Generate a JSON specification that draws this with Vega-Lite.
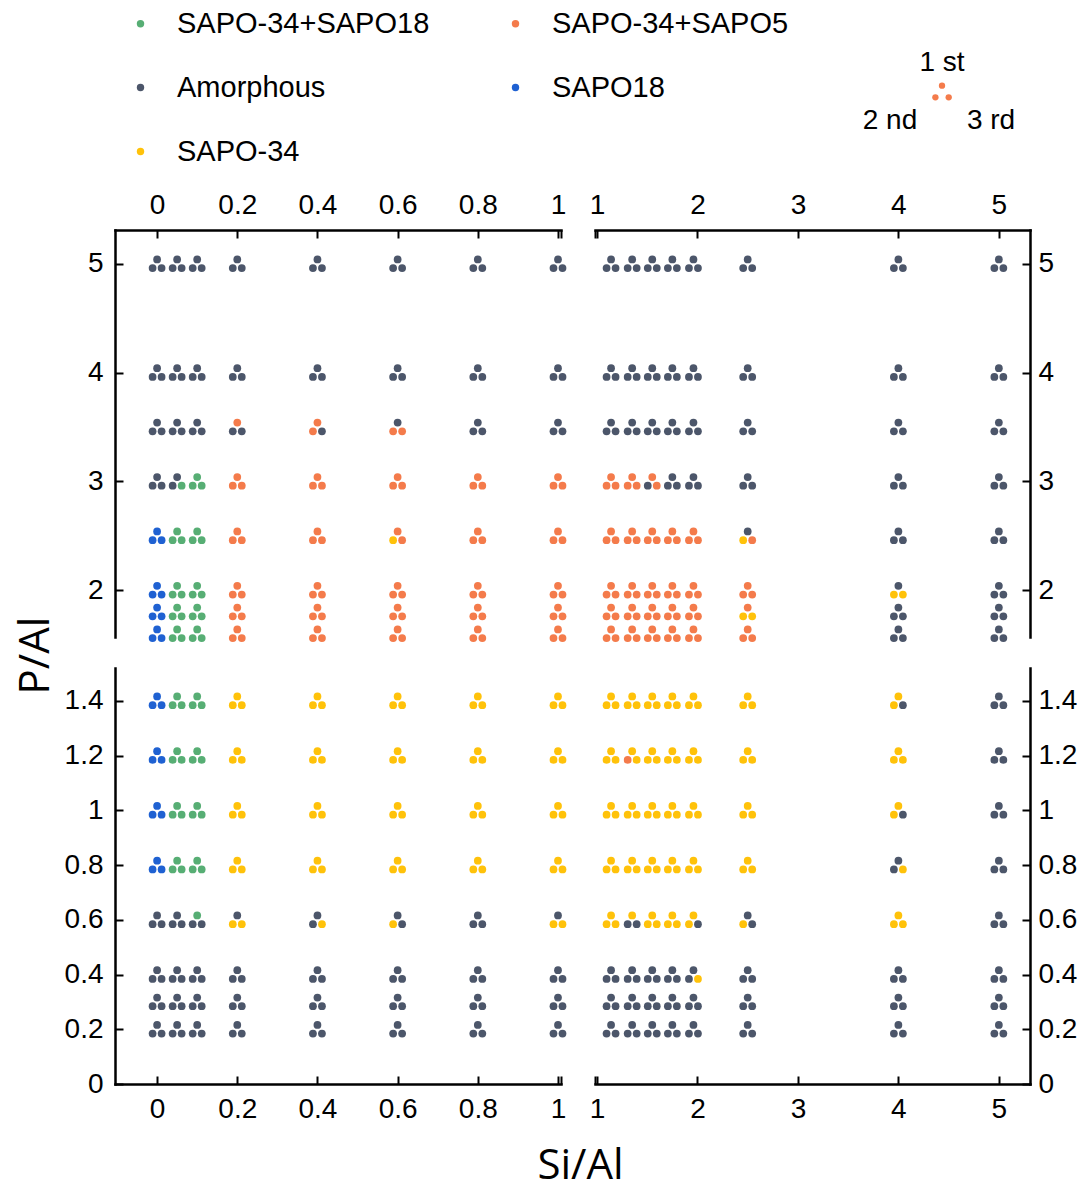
{
  "$schema": "https://vega.github.io/schema/vega-lite/v6.json",
  "padding": {"left": 14, "top": 9, "right": 5, "bottom": 5},
  "autosize": {"type": "pad"},
  "config": {
    "view": {"stroke": null},
    "font": "Liberation Sans",
    "axis": {"grid": false, "domainColor": "#000000", "domainWidth": 2.5, "domainCap": "square", "tickColor": "#000000", "tickWidth": 2, "labelFont": "Liberation Sans", "labelFontSize": 28, "labelColor": "#000000", "titleFont": "Open Sans", "titleFontSize": 42, "titleFontWeight": "normal", "titleColor": "#000000", "labelFlush": false, "labelOverlap": false}
  },
  "datasets": {
    "triplets": [
      {"si":0,"p":5,"first":"Amorphous","second":"Amorphous","third":"Amorphous"},
      {"si":0.05,"p":5,"first":"Amorphous","second":"Amorphous","third":"Amorphous"},
      {"si":0.1,"p":5,"first":"Amorphous","second":"Amorphous","third":"Amorphous"},
      {"si":0.2,"p":5,"first":"Amorphous","second":"Amorphous","third":"Amorphous"},
      {"si":0.4,"p":5,"first":"Amorphous","second":"Amorphous","third":"Amorphous"},
      {"si":0.6,"p":5,"first":"Amorphous","second":"Amorphous","third":"Amorphous"},
      {"si":0.8,"p":5,"first":"Amorphous","second":"Amorphous","third":"Amorphous"},
      {"si":1,"p":5,"first":"Amorphous","second":"Amorphous","third":"Amorphous"},
      {"si":0,"p":4,"first":"Amorphous","second":"Amorphous","third":"Amorphous"},
      {"si":0.05,"p":4,"first":"Amorphous","second":"Amorphous","third":"Amorphous"},
      {"si":0.1,"p":4,"first":"Amorphous","second":"Amorphous","third":"Amorphous"},
      {"si":0.2,"p":4,"first":"Amorphous","second":"Amorphous","third":"Amorphous"},
      {"si":0.4,"p":4,"first":"Amorphous","second":"Amorphous","third":"Amorphous"},
      {"si":0.6,"p":4,"first":"Amorphous","second":"Amorphous","third":"Amorphous"},
      {"si":0.8,"p":4,"first":"Amorphous","second":"Amorphous","third":"Amorphous"},
      {"si":1,"p":4,"first":"Amorphous","second":"Amorphous","third":"Amorphous"},
      {"si":0,"p":3.5,"first":"Amorphous","second":"Amorphous","third":"Amorphous"},
      {"si":0.05,"p":3.5,"first":"Amorphous","second":"Amorphous","third":"Amorphous"},
      {"si":0.1,"p":3.5,"first":"Amorphous","second":"Amorphous","third":"Amorphous"},
      {"si":0.2,"p":3.5,"first":"SAPO-34+SAPO5","second":"Amorphous","third":"Amorphous"},
      {"si":0.4,"p":3.5,"first":"SAPO-34+SAPO5","second":"SAPO-34+SAPO5","third":"Amorphous"},
      {"si":0.6,"p":3.5,"first":"Amorphous","second":"SAPO-34+SAPO5","third":"SAPO-34+SAPO5"},
      {"si":0.8,"p":3.5,"first":"Amorphous","second":"Amorphous","third":"Amorphous"},
      {"si":1,"p":3.5,"first":"Amorphous","second":"Amorphous","third":"Amorphous"},
      {"si":0,"p":3,"first":"Amorphous","second":"Amorphous","third":"Amorphous"},
      {"si":0.05,"p":3,"first":"Amorphous","second":"Amorphous","third":"SAPO-34+SAPO18"},
      {"si":0.1,"p":3,"first":"SAPO-34+SAPO18","second":"SAPO-34+SAPO18","third":"SAPO-34+SAPO18"},
      {"si":0.2,"p":3,"first":"SAPO-34+SAPO5","second":"SAPO-34+SAPO5","third":"SAPO-34+SAPO5"},
      {"si":0.4,"p":3,"first":"SAPO-34+SAPO5","second":"SAPO-34+SAPO5","third":"SAPO-34+SAPO5"},
      {"si":0.6,"p":3,"first":"SAPO-34+SAPO5","second":"SAPO-34+SAPO5","third":"SAPO-34+SAPO5"},
      {"si":0.8,"p":3,"first":"SAPO-34+SAPO5","second":"SAPO-34+SAPO5","third":"SAPO-34+SAPO5"},
      {"si":1,"p":3,"first":"SAPO-34+SAPO5","second":"SAPO-34+SAPO5","third":"SAPO-34+SAPO5"},
      {"si":0,"p":2.5,"first":"SAPO18","second":"SAPO18","third":"SAPO18"},
      {"si":0.05,"p":2.5,"first":"SAPO-34+SAPO18","second":"SAPO-34+SAPO18","third":"SAPO-34+SAPO18"},
      {"si":0.1,"p":2.5,"first":"SAPO-34+SAPO18","second":"SAPO-34+SAPO18","third":"SAPO-34+SAPO18"},
      {"si":0.2,"p":2.5,"first":"SAPO-34+SAPO5","second":"SAPO-34+SAPO5","third":"SAPO-34+SAPO5"},
      {"si":0.4,"p":2.5,"first":"SAPO-34+SAPO5","second":"SAPO-34+SAPO5","third":"SAPO-34+SAPO5"},
      {"si":0.6,"p":2.5,"first":"SAPO-34+SAPO5","second":"SAPO-34","third":"SAPO-34+SAPO5"},
      {"si":0.8,"p":2.5,"first":"SAPO-34+SAPO5","second":"SAPO-34+SAPO5","third":"SAPO-34+SAPO5"},
      {"si":1,"p":2.5,"first":"SAPO-34+SAPO5","second":"SAPO-34+SAPO5","third":"SAPO-34+SAPO5"},
      {"si":0,"p":2,"first":"SAPO18","second":"SAPO18","third":"SAPO18"},
      {"si":0.05,"p":2,"first":"SAPO-34+SAPO18","second":"SAPO-34+SAPO18","third":"SAPO-34+SAPO18"},
      {"si":0.1,"p":2,"first":"SAPO-34+SAPO18","second":"SAPO-34+SAPO18","third":"SAPO-34+SAPO18"},
      {"si":0.2,"p":2,"first":"SAPO-34+SAPO5","second":"SAPO-34+SAPO5","third":"SAPO-34+SAPO5"},
      {"si":0.4,"p":2,"first":"SAPO-34+SAPO5","second":"SAPO-34+SAPO5","third":"SAPO-34+SAPO5"},
      {"si":0.6,"p":2,"first":"SAPO-34+SAPO5","second":"SAPO-34+SAPO5","third":"SAPO-34+SAPO5"},
      {"si":0.8,"p":2,"first":"SAPO-34+SAPO5","second":"SAPO-34+SAPO5","third":"SAPO-34+SAPO5"},
      {"si":1,"p":2,"first":"SAPO-34+SAPO5","second":"SAPO-34+SAPO5","third":"SAPO-34+SAPO5"},
      {"si":0,"p":1.8,"first":"SAPO18","second":"SAPO18","third":"SAPO18"},
      {"si":0.05,"p":1.8,"first":"SAPO-34+SAPO18","second":"SAPO-34+SAPO18","third":"SAPO-34+SAPO18"},
      {"si":0.1,"p":1.8,"first":"SAPO-34+SAPO18","second":"SAPO-34+SAPO18","third":"SAPO-34+SAPO18"},
      {"si":0.2,"p":1.8,"first":"SAPO-34+SAPO5","second":"SAPO-34+SAPO5","third":"SAPO-34+SAPO5"},
      {"si":0.4,"p":1.8,"first":"SAPO-34+SAPO5","second":"SAPO-34+SAPO5","third":"SAPO-34+SAPO5"},
      {"si":0.6,"p":1.8,"first":"SAPO-34+SAPO5","second":"SAPO-34+SAPO5","third":"SAPO-34+SAPO5"},
      {"si":0.8,"p":1.8,"first":"SAPO-34+SAPO5","second":"SAPO-34+SAPO5","third":"SAPO-34+SAPO5"},
      {"si":1,"p":1.8,"first":"SAPO-34+SAPO5","second":"SAPO-34+SAPO5","third":"SAPO-34+SAPO5"},
      {"si":0,"p":1.6,"first":"SAPO18","second":"SAPO18","third":"SAPO18"},
      {"si":0.05,"p":1.6,"first":"SAPO-34+SAPO18","second":"SAPO-34+SAPO18","third":"SAPO-34+SAPO18"},
      {"si":0.1,"p":1.6,"first":"SAPO-34+SAPO18","second":"SAPO-34+SAPO18","third":"SAPO-34+SAPO18"},
      {"si":0.2,"p":1.6,"first":"SAPO-34+SAPO5","second":"SAPO-34+SAPO5","third":"SAPO-34+SAPO5"},
      {"si":0.4,"p":1.6,"first":"SAPO-34+SAPO5","second":"SAPO-34+SAPO5","third":"SAPO-34+SAPO5"},
      {"si":0.6,"p":1.6,"first":"SAPO-34+SAPO5","second":"SAPO-34+SAPO5","third":"SAPO-34+SAPO5"},
      {"si":0.8,"p":1.6,"first":"SAPO-34+SAPO5","second":"SAPO-34+SAPO5","third":"SAPO-34+SAPO5"},
      {"si":1,"p":1.6,"first":"SAPO-34+SAPO5","second":"SAPO-34+SAPO5","third":"SAPO-34+SAPO5"},

      {"si":1.14,"p":5,"first":"Amorphous","second":"Amorphous","third":"Amorphous"},
      {"si":1.35,"p":5,"first":"Amorphous","second":"Amorphous","third":"Amorphous"},
      {"si":1.55,"p":5,"first":"Amorphous","second":"Amorphous","third":"Amorphous"},
      {"si":1.75,"p":5,"first":"Amorphous","second":"Amorphous","third":"Amorphous"},
      {"si":1.96,"p":5,"first":"Amorphous","second":"Amorphous","third":"Amorphous"},
      {"si":2.5,"p":5,"first":"Amorphous","second":"Amorphous","third":"Amorphous"},
      {"si":4,"p":5,"first":"Amorphous","second":"Amorphous","third":"Amorphous"},
      {"si":5,"p":5,"first":"Amorphous","second":"Amorphous","third":"Amorphous"},
      {"si":1.14,"p":4,"first":"Amorphous","second":"Amorphous","third":"Amorphous"},
      {"si":1.35,"p":4,"first":"Amorphous","second":"Amorphous","third":"Amorphous"},
      {"si":1.55,"p":4,"first":"Amorphous","second":"Amorphous","third":"Amorphous"},
      {"si":1.75,"p":4,"first":"Amorphous","second":"Amorphous","third":"Amorphous"},
      {"si":1.96,"p":4,"first":"Amorphous","second":"Amorphous","third":"Amorphous"},
      {"si":2.5,"p":4,"first":"Amorphous","second":"Amorphous","third":"Amorphous"},
      {"si":4,"p":4,"first":"Amorphous","second":"Amorphous","third":"Amorphous"},
      {"si":5,"p":4,"first":"Amorphous","second":"Amorphous","third":"Amorphous"},
      {"si":1.14,"p":3.5,"first":"Amorphous","second":"Amorphous","third":"Amorphous"},
      {"si":1.35,"p":3.5,"first":"Amorphous","second":"Amorphous","third":"Amorphous"},
      {"si":1.55,"p":3.5,"first":"Amorphous","second":"Amorphous","third":"Amorphous"},
      {"si":1.75,"p":3.5,"first":"Amorphous","second":"Amorphous","third":"Amorphous"},
      {"si":1.96,"p":3.5,"first":"Amorphous","second":"Amorphous","third":"Amorphous"},
      {"si":2.5,"p":3.5,"first":"Amorphous","second":"Amorphous","third":"Amorphous"},
      {"si":4,"p":3.5,"first":"Amorphous","second":"Amorphous","third":"Amorphous"},
      {"si":5,"p":3.5,"first":"Amorphous","second":"Amorphous","third":"Amorphous"},
      {"si":1.14,"p":3,"first":"SAPO-34+SAPO5","second":"SAPO-34+SAPO5","third":"SAPO-34+SAPO5"},
      {"si":1.35,"p":3,"first":"SAPO-34+SAPO5","second":"SAPO-34+SAPO5","third":"SAPO-34+SAPO5"},
      {"si":1.55,"p":3,"first":"SAPO-34+SAPO5","second":"Amorphous","third":"SAPO-34+SAPO5"},
      {"si":1.75,"p":3,"first":"Amorphous","second":"Amorphous","third":"Amorphous"},
      {"si":1.96,"p":3,"first":"Amorphous","second":"Amorphous","third":"Amorphous"},
      {"si":2.5,"p":3,"first":"Amorphous","second":"Amorphous","third":"Amorphous"},
      {"si":4,"p":3,"first":"Amorphous","second":"Amorphous","third":"Amorphous"},
      {"si":5,"p":3,"first":"Amorphous","second":"Amorphous","third":"Amorphous"},
      {"si":1.14,"p":2.5,"first":"SAPO-34+SAPO5","second":"SAPO-34+SAPO5","third":"SAPO-34+SAPO5"},
      {"si":1.35,"p":2.5,"first":"SAPO-34+SAPO5","second":"SAPO-34+SAPO5","third":"SAPO-34+SAPO5"},
      {"si":1.55,"p":2.5,"first":"SAPO-34+SAPO5","second":"SAPO-34+SAPO5","third":"SAPO-34+SAPO5"},
      {"si":1.75,"p":2.5,"first":"SAPO-34+SAPO5","second":"SAPO-34+SAPO5","third":"SAPO-34+SAPO5"},
      {"si":1.96,"p":2.5,"first":"SAPO-34+SAPO5","second":"SAPO-34+SAPO5","third":"SAPO-34+SAPO5"},
      {"si":2.5,"p":2.5,"first":"Amorphous","second":"SAPO-34","third":"SAPO-34+SAPO5"},
      {"si":4,"p":2.5,"first":"Amorphous","second":"Amorphous","third":"Amorphous"},
      {"si":5,"p":2.5,"first":"Amorphous","second":"Amorphous","third":"Amorphous"},
      {"si":1.14,"p":2,"first":"SAPO-34+SAPO5","second":"SAPO-34+SAPO5","third":"SAPO-34+SAPO5"},
      {"si":1.35,"p":2,"first":"SAPO-34+SAPO5","second":"SAPO-34+SAPO5","third":"SAPO-34+SAPO5"},
      {"si":1.55,"p":2,"first":"SAPO-34+SAPO5","second":"SAPO-34+SAPO5","third":"SAPO-34+SAPO5"},
      {"si":1.75,"p":2,"first":"SAPO-34+SAPO5","second":"SAPO-34+SAPO5","third":"SAPO-34+SAPO5"},
      {"si":1.96,"p":2,"first":"SAPO-34+SAPO5","second":"SAPO-34+SAPO5","third":"SAPO-34+SAPO5"},
      {"si":2.5,"p":2,"first":"SAPO-34+SAPO5","second":"SAPO-34+SAPO5","third":"SAPO-34+SAPO5"},
      {"si":4,"p":2,"first":"Amorphous","second":"SAPO-34","third":"SAPO-34"},
      {"si":5,"p":2,"first":"Amorphous","second":"Amorphous","third":"Amorphous"},
      {"si":1.14,"p":1.8,"first":"SAPO-34+SAPO5","second":"SAPO-34+SAPO5","third":"SAPO-34+SAPO5"},
      {"si":1.35,"p":1.8,"first":"SAPO-34+SAPO5","second":"SAPO-34+SAPO5","third":"SAPO-34+SAPO5"},
      {"si":1.55,"p":1.8,"first":"SAPO-34+SAPO5","second":"SAPO-34+SAPO5","third":"SAPO-34+SAPO5"},
      {"si":1.75,"p":1.8,"first":"SAPO-34+SAPO5","second":"SAPO-34+SAPO5","third":"SAPO-34+SAPO5"},
      {"si":1.96,"p":1.8,"first":"SAPO-34+SAPO5","second":"SAPO-34+SAPO5","third":"SAPO-34+SAPO5"},
      {"si":2.5,"p":1.8,"first":"SAPO-34+SAPO5","second":"SAPO-34","third":"SAPO-34"},
      {"si":4,"p":1.8,"first":"Amorphous","second":"Amorphous","third":"Amorphous"},
      {"si":5,"p":1.8,"first":"Amorphous","second":"Amorphous","third":"Amorphous"},
      {"si":1.14,"p":1.6,"first":"SAPO-34+SAPO5","second":"SAPO-34+SAPO5","third":"SAPO-34+SAPO5"},
      {"si":1.35,"p":1.6,"first":"SAPO-34+SAPO5","second":"SAPO-34+SAPO5","third":"SAPO-34+SAPO5"},
      {"si":1.55,"p":1.6,"first":"SAPO-34+SAPO5","second":"SAPO-34+SAPO5","third":"SAPO-34+SAPO5"},
      {"si":1.75,"p":1.6,"first":"SAPO-34+SAPO5","second":"SAPO-34+SAPO5","third":"SAPO-34+SAPO5"},
      {"si":1.96,"p":1.6,"first":"SAPO-34+SAPO5","second":"SAPO-34+SAPO5","third":"SAPO-34+SAPO5"},
      {"si":2.5,"p":1.6,"first":"SAPO-34+SAPO5","second":"SAPO-34+SAPO5","third":"SAPO-34+SAPO5"},
      {"si":4,"p":1.6,"first":"Amorphous","second":"Amorphous","third":"Amorphous"},
      {"si":5,"p":1.6,"first":"Amorphous","second":"Amorphous","third":"Amorphous"},

      {"si":0,"p":1.4,"first":"SAPO18","second":"SAPO18","third":"SAPO18"},
      {"si":0.05,"p":1.4,"first":"SAPO-34+SAPO18","second":"SAPO-34+SAPO18","third":"SAPO-34+SAPO18"},
      {"si":0.1,"p":1.4,"first":"SAPO-34+SAPO18","second":"SAPO-34+SAPO18","third":"SAPO-34+SAPO18"},
      {"si":0.2,"p":1.4,"first":"SAPO-34","second":"SAPO-34","third":"SAPO-34"},
      {"si":0.4,"p":1.4,"first":"SAPO-34","second":"SAPO-34","third":"SAPO-34"},
      {"si":0.6,"p":1.4,"first":"SAPO-34","second":"SAPO-34","third":"SAPO-34"},
      {"si":0.8,"p":1.4,"first":"SAPO-34","second":"SAPO-34","third":"SAPO-34"},
      {"si":1,"p":1.4,"first":"SAPO-34","second":"SAPO-34","third":"SAPO-34"},
      {"si":0,"p":1.2,"first":"SAPO18","second":"SAPO18","third":"SAPO18"},
      {"si":0.05,"p":1.2,"first":"SAPO-34+SAPO18","second":"SAPO-34+SAPO18","third":"SAPO-34+SAPO18"},
      {"si":0.1,"p":1.2,"first":"SAPO-34+SAPO18","second":"SAPO-34+SAPO18","third":"SAPO-34+SAPO18"},
      {"si":0.2,"p":1.2,"first":"SAPO-34","second":"SAPO-34","third":"SAPO-34"},
      {"si":0.4,"p":1.2,"first":"SAPO-34","second":"SAPO-34","third":"SAPO-34"},
      {"si":0.6,"p":1.2,"first":"SAPO-34","second":"SAPO-34","third":"SAPO-34"},
      {"si":0.8,"p":1.2,"first":"SAPO-34","second":"SAPO-34","third":"SAPO-34"},
      {"si":1,"p":1.2,"first":"SAPO-34","second":"SAPO-34","third":"SAPO-34"},
      {"si":0,"p":1,"first":"SAPO18","second":"SAPO18","third":"SAPO18"},
      {"si":0.05,"p":1,"first":"SAPO-34+SAPO18","second":"SAPO-34+SAPO18","third":"SAPO-34+SAPO18"},
      {"si":0.1,"p":1,"first":"SAPO-34+SAPO18","second":"SAPO-34+SAPO18","third":"SAPO-34+SAPO18"},
      {"si":0.2,"p":1,"first":"SAPO-34","second":"SAPO-34","third":"SAPO-34"},
      {"si":0.4,"p":1,"first":"SAPO-34","second":"SAPO-34","third":"SAPO-34"},
      {"si":0.6,"p":1,"first":"SAPO-34","second":"SAPO-34","third":"SAPO-34"},
      {"si":0.8,"p":1,"first":"SAPO-34","second":"SAPO-34","third":"SAPO-34"},
      {"si":1,"p":1,"first":"SAPO-34","second":"SAPO-34","third":"SAPO-34"},
      {"si":0,"p":0.8,"first":"SAPO18","second":"SAPO18","third":"SAPO18"},
      {"si":0.05,"p":0.8,"first":"SAPO-34+SAPO18","second":"SAPO-34+SAPO18","third":"SAPO-34+SAPO18"},
      {"si":0.1,"p":0.8,"first":"SAPO-34+SAPO18","second":"SAPO-34+SAPO18","third":"SAPO-34+SAPO18"},
      {"si":0.2,"p":0.8,"first":"SAPO-34","second":"SAPO-34","third":"SAPO-34"},
      {"si":0.4,"p":0.8,"first":"SAPO-34","second":"SAPO-34","third":"SAPO-34"},
      {"si":0.6,"p":0.8,"first":"SAPO-34","second":"SAPO-34","third":"SAPO-34"},
      {"si":0.8,"p":0.8,"first":"SAPO-34","second":"SAPO-34","third":"SAPO-34"},
      {"si":1,"p":0.8,"first":"SAPO-34","second":"SAPO-34","third":"SAPO-34"},
      {"si":0,"p":0.6,"first":"Amorphous","second":"Amorphous","third":"Amorphous"},
      {"si":0.05,"p":0.6,"first":"Amorphous","second":"Amorphous","third":"Amorphous"},
      {"si":0.1,"p":0.6,"first":"SAPO-34+SAPO18","second":"Amorphous","third":"Amorphous"},
      {"si":0.2,"p":0.6,"first":"Amorphous","second":"SAPO-34","third":"SAPO-34"},
      {"si":0.4,"p":0.6,"first":"Amorphous","second":"Amorphous","third":"SAPO-34"},
      {"si":0.6,"p":0.6,"first":"Amorphous","second":"SAPO-34","third":"Amorphous"},
      {"si":0.8,"p":0.6,"first":"Amorphous","second":"Amorphous","third":"Amorphous"},
      {"si":1,"p":0.6,"first":"Amorphous","second":"SAPO-34","third":"SAPO-34"},
      {"si":0,"p":0.4,"first":"Amorphous","second":"Amorphous","third":"Amorphous"},
      {"si":0.05,"p":0.4,"first":"Amorphous","second":"Amorphous","third":"Amorphous"},
      {"si":0.1,"p":0.4,"first":"Amorphous","second":"Amorphous","third":"Amorphous"},
      {"si":0.2,"p":0.4,"first":"Amorphous","second":"Amorphous","third":"Amorphous"},
      {"si":0.4,"p":0.4,"first":"Amorphous","second":"Amorphous","third":"Amorphous"},
      {"si":0.6,"p":0.4,"first":"Amorphous","second":"Amorphous","third":"Amorphous"},
      {"si":0.8,"p":0.4,"first":"Amorphous","second":"Amorphous","third":"Amorphous"},
      {"si":1,"p":0.4,"first":"Amorphous","second":"Amorphous","third":"Amorphous"},
      {"si":0,"p":0.3,"first":"Amorphous","second":"Amorphous","third":"Amorphous"},
      {"si":0.05,"p":0.3,"first":"Amorphous","second":"Amorphous","third":"Amorphous"},
      {"si":0.1,"p":0.3,"first":"Amorphous","second":"Amorphous","third":"Amorphous"},
      {"si":0.2,"p":0.3,"first":"Amorphous","second":"Amorphous","third":"Amorphous"},
      {"si":0.4,"p":0.3,"first":"Amorphous","second":"Amorphous","third":"Amorphous"},
      {"si":0.6,"p":0.3,"first":"Amorphous","second":"Amorphous","third":"Amorphous"},
      {"si":0.8,"p":0.3,"first":"Amorphous","second":"Amorphous","third":"Amorphous"},
      {"si":1,"p":0.3,"first":"Amorphous","second":"Amorphous","third":"Amorphous"},
      {"si":0,"p":0.2,"first":"Amorphous","second":"Amorphous","third":"Amorphous"},
      {"si":0.05,"p":0.2,"first":"Amorphous","second":"Amorphous","third":"Amorphous"},
      {"si":0.1,"p":0.2,"first":"Amorphous","second":"Amorphous","third":"Amorphous"},
      {"si":0.2,"p":0.2,"first":"Amorphous","second":"Amorphous","third":"Amorphous"},
      {"si":0.4,"p":0.2,"first":"Amorphous","second":"Amorphous","third":"Amorphous"},
      {"si":0.6,"p":0.2,"first":"Amorphous","second":"Amorphous","third":"Amorphous"},
      {"si":0.8,"p":0.2,"first":"Amorphous","second":"Amorphous","third":"Amorphous"},
      {"si":1,"p":0.2,"first":"Amorphous","second":"Amorphous","third":"Amorphous"},

      {"si":1.14,"p":1.4,"first":"SAPO-34","second":"SAPO-34","third":"SAPO-34"},
      {"si":1.35,"p":1.4,"first":"SAPO-34","second":"SAPO-34","third":"SAPO-34"},
      {"si":1.55,"p":1.4,"first":"SAPO-34","second":"SAPO-34","third":"SAPO-34"},
      {"si":1.75,"p":1.4,"first":"SAPO-34","second":"SAPO-34","third":"SAPO-34"},
      {"si":1.96,"p":1.4,"first":"SAPO-34","second":"SAPO-34","third":"SAPO-34"},
      {"si":2.5,"p":1.4,"first":"SAPO-34","second":"SAPO-34","third":"SAPO-34"},
      {"si":4,"p":1.4,"first":"SAPO-34","second":"SAPO-34","third":"Amorphous"},
      {"si":5,"p":1.4,"first":"Amorphous","second":"Amorphous","third":"Amorphous"},
      {"si":1.14,"p":1.2,"first":"SAPO-34","second":"SAPO-34","third":"SAPO-34"},
      {"si":1.35,"p":1.2,"first":"SAPO-34","second":"SAPO-34+SAPO5","third":"SAPO-34"},
      {"si":1.55,"p":1.2,"first":"SAPO-34","second":"SAPO-34","third":"SAPO-34"},
      {"si":1.75,"p":1.2,"first":"SAPO-34","second":"SAPO-34","third":"SAPO-34"},
      {"si":1.96,"p":1.2,"first":"SAPO-34","second":"SAPO-34","third":"SAPO-34"},
      {"si":2.5,"p":1.2,"first":"SAPO-34","second":"SAPO-34","third":"SAPO-34"},
      {"si":4,"p":1.2,"first":"SAPO-34","second":"SAPO-34","third":"SAPO-34"},
      {"si":5,"p":1.2,"first":"Amorphous","second":"Amorphous","third":"Amorphous"},
      {"si":1.14,"p":1,"first":"SAPO-34","second":"SAPO-34","third":"SAPO-34"},
      {"si":1.35,"p":1,"first":"SAPO-34","second":"SAPO-34","third":"SAPO-34"},
      {"si":1.55,"p":1,"first":"SAPO-34","second":"SAPO-34","third":"SAPO-34"},
      {"si":1.75,"p":1,"first":"SAPO-34","second":"SAPO-34","third":"SAPO-34"},
      {"si":1.96,"p":1,"first":"SAPO-34","second":"SAPO-34","third":"SAPO-34"},
      {"si":2.5,"p":1,"first":"SAPO-34","second":"SAPO-34","third":"SAPO-34"},
      {"si":4,"p":1,"first":"SAPO-34","second":"SAPO-34","third":"Amorphous"},
      {"si":5,"p":1,"first":"Amorphous","second":"Amorphous","third":"Amorphous"},
      {"si":1.14,"p":0.8,"first":"SAPO-34","second":"SAPO-34","third":"SAPO-34"},
      {"si":1.35,"p":0.8,"first":"SAPO-34","second":"SAPO-34","third":"SAPO-34"},
      {"si":1.55,"p":0.8,"first":"SAPO-34","second":"SAPO-34","third":"SAPO-34"},
      {"si":1.75,"p":0.8,"first":"SAPO-34","second":"SAPO-34","third":"SAPO-34"},
      {"si":1.96,"p":0.8,"first":"SAPO-34","second":"SAPO-34","third":"SAPO-34"},
      {"si":2.5,"p":0.8,"first":"SAPO-34","second":"SAPO-34","third":"SAPO-34"},
      {"si":4,"p":0.8,"first":"Amorphous","second":"Amorphous","third":"SAPO-34"},
      {"si":5,"p":0.8,"first":"Amorphous","second":"Amorphous","third":"Amorphous"},
      {"si":1.14,"p":0.6,"first":"SAPO-34","second":"SAPO-34","third":"SAPO-34"},
      {"si":1.35,"p":0.6,"first":"SAPO-34","second":"Amorphous","third":"Amorphous"},
      {"si":1.55,"p":0.6,"first":"SAPO-34","second":"SAPO-34","third":"SAPO-34"},
      {"si":1.75,"p":0.6,"first":"SAPO-34","second":"SAPO-34","third":"SAPO-34"},
      {"si":1.96,"p":0.6,"first":"SAPO-34","second":"SAPO-34","third":"Amorphous"},
      {"si":2.5,"p":0.6,"first":"Amorphous","second":"SAPO-34","third":"Amorphous"},
      {"si":4,"p":0.6,"first":"SAPO-34","second":"SAPO-34","third":"SAPO-34"},
      {"si":5,"p":0.6,"first":"Amorphous","second":"Amorphous","third":"Amorphous"},
      {"si":1.14,"p":0.4,"first":"Amorphous","second":"Amorphous","third":"Amorphous"},
      {"si":1.35,"p":0.4,"first":"Amorphous","second":"Amorphous","third":"Amorphous"},
      {"si":1.55,"p":0.4,"first":"Amorphous","second":"Amorphous","third":"Amorphous"},
      {"si":1.75,"p":0.4,"first":"Amorphous","second":"Amorphous","third":"Amorphous"},
      {"si":1.96,"p":0.4,"first":"Amorphous","second":"Amorphous","third":"SAPO-34"},
      {"si":2.5,"p":0.4,"first":"Amorphous","second":"Amorphous","third":"Amorphous"},
      {"si":4,"p":0.4,"first":"Amorphous","second":"Amorphous","third":"Amorphous"},
      {"si":5,"p":0.4,"first":"Amorphous","second":"Amorphous","third":"Amorphous"},
      {"si":1.14,"p":0.3,"first":"Amorphous","second":"Amorphous","third":"Amorphous"},
      {"si":1.35,"p":0.3,"first":"Amorphous","second":"Amorphous","third":"Amorphous"},
      {"si":1.55,"p":0.3,"first":"Amorphous","second":"Amorphous","third":"Amorphous"},
      {"si":1.75,"p":0.3,"first":"Amorphous","second":"Amorphous","third":"Amorphous"},
      {"si":1.96,"p":0.3,"first":"Amorphous","second":"Amorphous","third":"Amorphous"},
      {"si":2.5,"p":0.3,"first":"Amorphous","second":"Amorphous","third":"Amorphous"},
      {"si":4,"p":0.3,"first":"Amorphous","second":"Amorphous","third":"Amorphous"},
      {"si":5,"p":0.3,"first":"Amorphous","second":"Amorphous","third":"Amorphous"},
      {"si":1.14,"p":0.2,"first":"Amorphous","second":"Amorphous","third":"Amorphous"},
      {"si":1.35,"p":0.2,"first":"Amorphous","second":"Amorphous","third":"Amorphous"},
      {"si":1.55,"p":0.2,"first":"Amorphous","second":"Amorphous","third":"Amorphous"},
      {"si":1.75,"p":0.2,"first":"Amorphous","second":"Amorphous","third":"Amorphous"},
      {"si":1.96,"p":0.2,"first":"Amorphous","second":"Amorphous","third":"Amorphous"},
      {"si":2.5,"p":0.2,"first":"Amorphous","second":"Amorphous","third":"Amorphous"},
      {"si":4,"p":0.2,"first":"Amorphous","second":"Amorphous","third":"Amorphous"},
      {"si":5,"p":0.2,"first":"Amorphous","second":"Amorphous","third":"Amorphous"}
    ]
  },
  "concat": [
    {"width": 446, "height": 190, "data": {"values": []}, "mark": {"type": "point"}},
    {
      "width": 435, "height": 190,
      "data": {"values": [{"order": "1 st"}, {"order": "2 nd"}, {"order": "3 rd"}]},
      "layer": [
        {"transform": [{"filter": "datum.order == '1 st'"}], "mark": {"type": "circle", "size": 40, "opacity": 1, "color": "#F47B4B", "xOffset": 129.5, "yOffset": -18.3}, "encoding": {}},
        {"transform": [{"filter": "datum.order == '2 nd'"}], "mark": {"type": "circle", "size": 40, "opacity": 1, "color": "#F47B4B", "xOffset": 122.9, "yOffset": -6.7}, "encoding": {}},
        {"transform": [{"filter": "datum.order == '3 rd'"}], "mark": {"type": "circle", "size": 40, "opacity": 1, "color": "#F47B4B", "xOffset": 136.2, "yOffset": -6.7}, "encoding": {}},
        {"transform": [{"filter": "datum.order == '1 st'"}], "mark": {"type": "text", "font": "Liberation Sans", "fontSize": 28, "color": "#000000", "align": "center", "baseline": "middle", "dx": 129.5, "dy": -41}, "encoding": {"text": {"field": "order"}}},
        {"transform": [{"filter": "datum.order == '2 nd'"}], "mark": {"type": "text", "font": "Liberation Sans", "fontSize": 28, "color": "#000000", "align": "center", "baseline": "middle", "dx": 77.5, "dy": 17}, "encoding": {"text": {"field": "order"}}},
        {"transform": [{"filter": "datum.order == '3 rd'"}], "mark": {"type": "text", "font": "Liberation Sans", "fontSize": 28, "color": "#000000", "align": "center", "baseline": "middle", "dx": 178.5, "dy": 17}, "encoding": {"text": {"field": "order"}}}
      ]
    },
    {
      "width": 446, "height": 407,
      "data": {"name": "triplets"},
      "transform": [{"filter": "datum.si <= 1.001 && datum.p >= 1.5"}],
      "encoding": {
        "x": {"field": "si", "type": "quantitative", "scale": {"domain": [-0.105, 1.0075], "nice": false, "zero": false},
              "axis": {"orient": "top", "values": [0, 0.2, 0.4, 0.6, 0.8, 1, 1.0075], "format": "~g", "labelExpr": "datum.value > 1.001 ? '' : datum.label", "title": null, "tickSize": -8, "labelPadding": 19}},
        "y": {"field": "p", "type": "quantitative", "scale": {"domain": [1.57, 5.31], "nice": false, "zero": false},
              "axis": {"orient": "left", "values": [2, 3, 4, 5], "format": "~g", "tickSize": -8, "labelPadding": 20, "title": "P/Al", "titleX": -80, "titleY": 425, "titleAlign": "center", "titleBaseline": "middle"}}
      },
      "layer": [
        {"mark": {"type": "circle", "size": 60, "opacity": 1, "yOffset": -4.35},
         "encoding": {"color": {"field": "first", "type": "nominal",
           "scale": {"domain": ["SAPO-34+SAPO18", "SAPO-34+SAPO5", "Amorphous", "SAPO18", "SAPO-34"], "range": ["#57AE74", "#F47B4B", "#4C566A", "#1F61D2", "#FFC20A"]},
           "legend": {"title": null, "orient": "none", "legendX": 11, "legendY": 0, "columns": 2, "direction": "horizontal", "padding": 0, "symbolType": "circle", "symbolSize": 55, "symbolStrokeWidth": 0, "labelFont": "Liberation Sans", "labelFontSize": 29, "labelColor": "#000000", "labelOffset": 22, "rowPadding": 34, "columnPadding": 71, "labelLimit": 400}}}},
        {"mark": {"type": "circle", "size": 60, "opacity": 1, "xOffset": -4.5, "yOffset": 4.35},
         "encoding": {"color": {"field": "second", "type": "nominal", "scale": {"domain": ["SAPO-34+SAPO18", "SAPO-34+SAPO5", "Amorphous", "SAPO18", "SAPO-34"], "range": ["#57AE74", "#F47B4B", "#4C566A", "#1F61D2", "#FFC20A"]}, "legend": null}}},
        {"mark": {"type": "circle", "size": 60, "opacity": 1, "xOffset": 4.5, "yOffset": 4.35},
         "encoding": {"color": {"field": "third", "type": "nominal", "scale": {"domain": ["SAPO-34+SAPO18", "SAPO-34+SAPO5", "Amorphous", "SAPO18", "SAPO-34"], "range": ["#57AE74", "#F47B4B", "#4C566A", "#1F61D2", "#FFC20A"]}, "legend": null}}}
      ]
    },
    {
      "width": 435, "height": 407,
      "data": {"name": "triplets"},
      "transform": [{"filter": "datum.si > 1.001 && datum.p >= 1.5"}],
      "encoding": {
        "x": {"field": "si", "type": "quantitative", "scale": {"domain": [0.98, 5.31], "nice": false, "zero": false},
              "axis": {"orient": "top", "values": [0.98, 1, 2, 3, 4, 5], "format": "~g", "labelExpr": "datum.value < 0.99 ? '' : datum.label", "title": null, "tickSize": -8, "labelPadding": 19}},
        "y": {"field": "p", "type": "quantitative", "scale": {"domain": [1.57, 5.31], "nice": false, "zero": false},
              "axis": {"orient": "right", "values": [2, 3, 4, 5], "format": "~g", "tickSize": -8, "labelPadding": 16, "title": null}}
      },
      "layer": [
        {"mark": {"type": "circle", "size": 60, "opacity": 1, "yOffset": -4.35},
         "encoding": {"color": {"field": "first", "type": "nominal", "scale": {"domain": ["SAPO-34+SAPO18", "SAPO-34+SAPO5", "Amorphous", "SAPO18", "SAPO-34"], "range": ["#57AE74", "#F47B4B", "#4C566A", "#1F61D2", "#FFC20A"]}, "legend": null}}},
        {"mark": {"type": "circle", "size": 60, "opacity": 1, "xOffset": -4.5, "yOffset": 4.35},
         "encoding": {"color": {"field": "second", "type": "nominal", "scale": {"domain": ["SAPO-34+SAPO18", "SAPO-34+SAPO5", "Amorphous", "SAPO18", "SAPO-34"], "range": ["#57AE74", "#F47B4B", "#4C566A", "#1F61D2", "#FFC20A"]}, "legend": null}}},
        {"mark": {"type": "circle", "size": 60, "opacity": 1, "xOffset": 4.5, "yOffset": 4.35},
         "encoding": {"color": {"field": "third", "type": "nominal", "scale": {"domain": ["SAPO-34+SAPO18", "SAPO-34+SAPO5", "Amorphous", "SAPO18", "SAPO-34"], "range": ["#57AE74", "#F47B4B", "#4C566A", "#1F61D2", "#FFC20A"]}, "legend": null}}}
      ]
    },
    {
      "width": 446, "height": 416,
      "data": {"name": "triplets"},
      "transform": [{"filter": "datum.si <= 1.001 && datum.p < 1.5"}],
      "encoding": {
        "x": {"field": "si", "type": "quantitative", "scale": {"domain": [-0.105, 1.0075], "nice": false, "zero": false},
              "axis": {"orient": "bottom", "values": [0, 0.2, 0.4, 0.6, 0.8, 1, 1.0075], "format": "~g", "labelExpr": "datum.value > 1.001 ? '' : datum.label", "tickSize": -8, "labelPadding": 19, "title": "Si/Al", "titleX": 465, "titleY": 81, "titleAlign": "center", "titleBaseline": "middle"}},
        "y": {"field": "p", "type": "quantitative", "scale": {"domain": [0, 1.52], "nice": false, "zero": false},
              "axis": {"orient": "left", "values": [0, 0.2, 0.4, 0.6, 0.8, 1, 1.2, 1.4], "format": "~g", "tickSize": -8, "labelPadding": 20, "title": null}}
      },
      "layer": [
        {"mark": {"type": "circle", "size": 60, "opacity": 1, "yOffset": -4.35},
         "encoding": {"color": {"field": "first", "type": "nominal", "scale": {"domain": ["SAPO-34+SAPO18", "SAPO-34+SAPO5", "Amorphous", "SAPO18", "SAPO-34"], "range": ["#57AE74", "#F47B4B", "#4C566A", "#1F61D2", "#FFC20A"]}, "legend": null}}},
        {"mark": {"type": "circle", "size": 60, "opacity": 1, "xOffset": -4.5, "yOffset": 4.35},
         "encoding": {"color": {"field": "second", "type": "nominal", "scale": {"domain": ["SAPO-34+SAPO18", "SAPO-34+SAPO5", "Amorphous", "SAPO18", "SAPO-34"], "range": ["#57AE74", "#F47B4B", "#4C566A", "#1F61D2", "#FFC20A"]}, "legend": null}}},
        {"mark": {"type": "circle", "size": 60, "opacity": 1, "xOffset": 4.5, "yOffset": 4.35},
         "encoding": {"color": {"field": "third", "type": "nominal", "scale": {"domain": ["SAPO-34+SAPO18", "SAPO-34+SAPO5", "Amorphous", "SAPO18", "SAPO-34"], "range": ["#57AE74", "#F47B4B", "#4C566A", "#1F61D2", "#FFC20A"]}, "legend": null}}}
      ]
    },
    {
      "width": 435, "height": 416,
      "data": {"name": "triplets"},
      "transform": [{"filter": "datum.si > 1.001 && datum.p < 1.5"}],
      "encoding": {
        "x": {"field": "si", "type": "quantitative", "scale": {"domain": [0.98, 5.31], "nice": false, "zero": false},
              "axis": {"orient": "bottom", "values": [0.98, 1, 2, 3, 4, 5], "format": "~g", "labelExpr": "datum.value < 0.99 ? '' : datum.label", "title": null, "tickSize": -8, "labelPadding": 19}},
        "y": {"field": "p", "type": "quantitative", "scale": {"domain": [0, 1.52], "nice": false, "zero": false},
              "axis": {"orient": "right", "values": [0, 0.2, 0.4, 0.6, 0.8, 1, 1.2, 1.4], "format": "~g", "tickSize": -8, "labelPadding": 16, "title": null}}
      },
      "layer": [
        {"mark": {"type": "circle", "size": 60, "opacity": 1, "yOffset": -4.35},
         "encoding": {"color": {"field": "first", "type": "nominal", "scale": {"domain": ["SAPO-34+SAPO18", "SAPO-34+SAPO5", "Amorphous", "SAPO18", "SAPO-34"], "range": ["#57AE74", "#F47B4B", "#4C566A", "#1F61D2", "#FFC20A"]}, "legend": null}}},
        {"mark": {"type": "circle", "size": 60, "opacity": 1, "xOffset": -4.5, "yOffset": 4.35},
         "encoding": {"color": {"field": "second", "type": "nominal", "scale": {"domain": ["SAPO-34+SAPO18", "SAPO-34+SAPO5", "Amorphous", "SAPO18", "SAPO-34"], "range": ["#57AE74", "#F47B4B", "#4C566A", "#1F61D2", "#FFC20A"]}, "legend": null}}},
        {"mark": {"type": "circle", "size": 60, "opacity": 1, "xOffset": 4.5, "yOffset": 4.35},
         "encoding": {"color": {"field": "third", "type": "nominal", "scale": {"domain": ["SAPO-34+SAPO18", "SAPO-34+SAPO5", "Amorphous", "SAPO18", "SAPO-34"], "range": ["#57AE74", "#F47B4B", "#4C566A", "#1F61D2", "#FFC20A"]}, "legend": null}}}
      ]
    }
  ],
  "columns": 2,
  "spacing": {"row": 31, "column": 34},
  "bounds": "flush",
  "resolve": {"scale": {"x": "independent", "y": "independent", "color": "shared"}}
}
